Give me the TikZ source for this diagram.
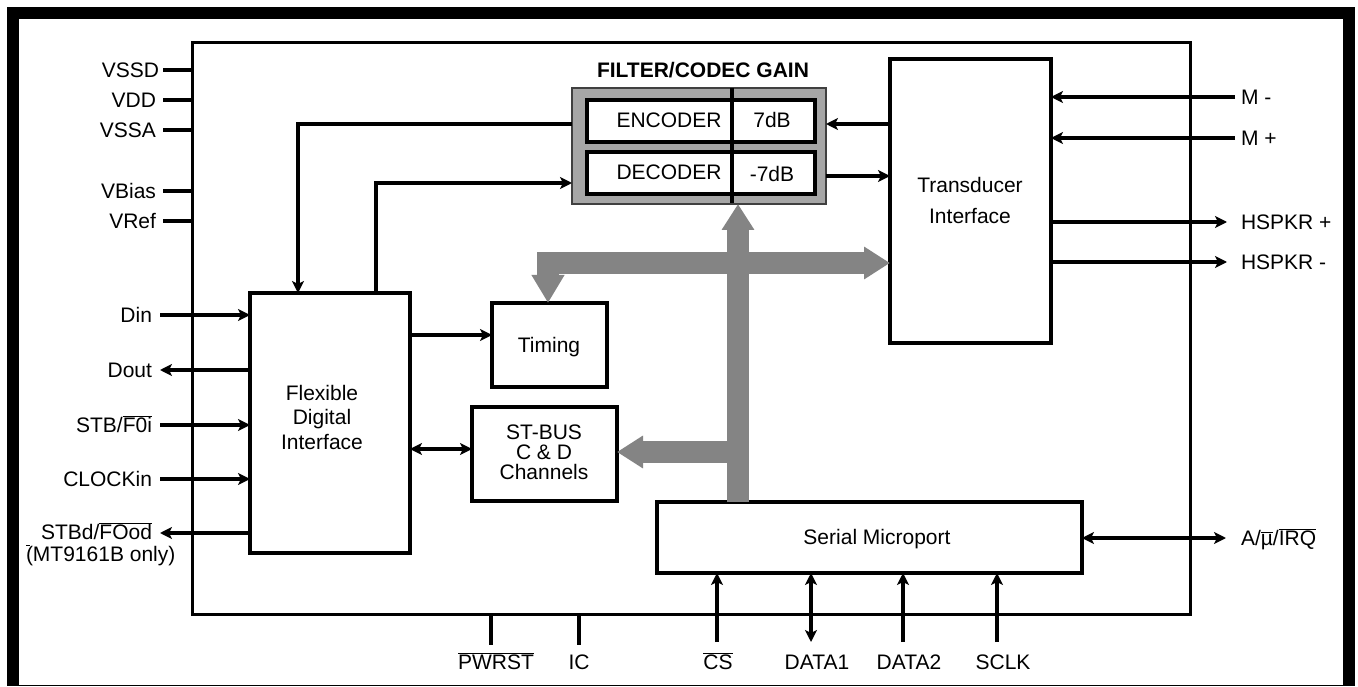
\documentclass[tikz,border=0pt]{standalone}
\usepackage{fontspec}
\setmainfont{Liberation Sans}
\usetikzlibrary{arrows.meta}
\definecolor{busgray}{RGB}{132,132,132}
\definecolor{boxgray}{RGB}{166,166,166}
\newcommand\ovl[1]{\ensuremath{\overline{\mbox{#1}}}}
\begin{document}
\begin{tikzpicture}[x=1pt,y=-1pt,
  every node/.style={font=\fontsize{21}{24}\selectfont, inner sep=0pt, outer sep=0pt},
  blk/.style={draw, line width=3.3pt, fill=white, align=center},
  wire/.style={line width=3.3pt},
  arr/.style={wire, -{Stealth[length=12pt,width=12pt,inset=3pt]}},
  darr/.style={wire, {Stealth[length=12pt,width=12pt,inset=3pt]}-{Stealth[length=12pt,width=12pt,inset=3pt]}},
  bus/.style={line width=22pt, busgray, -{Triangle[length=26pt,width=31pt]}},
  bus2/.style={line width=22pt, busgray, line join=miter, {Triangle[length=28pt,width=31pt]}-{Triangle[length=26pt,width=31pt]}},
  multi/.style={align=center, font=\fontsize{21}{#1}\selectfont},
]
\useasboundingbox (0,0) rectangle (1358,687);
\fill[black] (7,7) rectangle (1355,686);
\fill[white] (19,19) rectangle (1343,684.5);

% chip outline
\node[blk, line width=3pt, minimum width=998pt, minimum height=571pt] (chip) at (691,328.5) {};

% left power pins
\coordinate (pVSSD) at (163,70);
\coordinate (pVDD) at (163,100);
\coordinate (pVSSA) at (163,130);
\coordinate (pVBias) at (163,191);
\coordinate (pVRef) at (163,221);
\foreach \p in {pVSSD,pVDD,pVSSA,pVBias,pVRef}{\draw[line width=3.8pt] (\p) -- (chip.west |- \p);}
\node[anchor=base east] (lVSSD) at (159,77.5) {VSSD};
\node[anchor=base east] (lVDD) at (156,107.5) {VDD};
\node[anchor=base east] (lVSSA) at (156,137.5) {VSSA};
\node[anchor=base east] (lVBias) at (156,198.5) {VBias};
\node[anchor=base east] (lVRef) at (156,228.5) {VRef};

% blocks
\node[blk, minimum width=160pt, minimum height=260pt] (fdi) at (330,423) {};
\node[multi=24.5] (fdit) at (322,417) {Flexible\\Digital\\Interface};
\node[blk, minimum width=115pt, minimum height=84pt] (timing) at (549.5,345) {};
\node[anchor=base] (timt) at (549,352) {Timing};
\node[blk, minimum width=145pt, minimum height=94pt] (stbus) at (544.5,454) {};
\node[multi=20] (stbt) at (544,452.5) {ST-BUS\\C \& D\\Channels};
\node[blk, minimum width=425pt, minimum height=71pt] (sm) at (869.5,537.5) {};
\node[anchor=base] (smt) at (877,544) {Serial Microport};
\node[blk, minimum width=161pt, minimum height=284pt] (trans) at (970.5,201) {};
\node[multi=31] (trt) at (970,200) {Transducer\\Interface};

% filter / codec
\node[draw=black!75, line width=1.2pt, fill=boxgray, minimum width=254pt, minimum height=116pt] (filt) at (699,146) {};
\node[blk, line width=4pt, minimum width=228pt, minimum height=42pt] (enc) at (701,121) {};
\node[blk, line width=4pt, minimum width=228pt, minimum height=42pt] (dec) at (701,173) {};
\coordinate (divx) at (732,0);
\draw[wire] (filt.north -| divx) -- ([yshift=1pt]filt.south -| divx);
\node[anchor=base] (enct) at (669,127.5) {ENCODER};
\node[anchor=base] (encg) at (772,128) {7dB};
\node[anchor=base] (dect) at (669,179.5) {DECODER};
\node[anchor=base] (decg) at (772,182) {-7dB};
\node[anchor=base, font=\fontsize{21}{24}\selectfont\bfseries] (title) at (703,78) {FILTER/CODEC GAIN};

% buses
\coordinate (busx) at (738,0);
\coordinate (hbus) at (548,263);
\draw[bus2] (timing.north -| hbus) -- (hbus) -- (trans.west |- hbus);
\draw[bus] (sm.north -| busx) -- (filt.south -| busx);
\coordinate (lbus) at (738,452);
\draw[bus] (lbus) -- (stbus.east |- lbus);

% internal connections
\coordinate (ency) at (0,124);
\coordinate (decy) at (0,176);
\coordinate (dinY) at (0,183);
\coordinate (e1) at (298,124);
\coordinate (d1) at (376,183);
\draw[arr] (trans.west |- ency) -- (filt.east |- ency);
\draw[arr] (filt.east |- decy) -- (trans.west |- decy);
\draw[arr] (filt.west |- e1) -- (e1) -- (fdi.north -| e1);
\draw[arr] (fdi.north -| d1) -- (d1) -- (filt.west |- d1);
\coordinate (tmy) at (0,335);
\coordinate (sty) at (0,449);
\draw[arr] (fdi.east |- tmy) -- (timing.west |- tmy);
\draw[darr] (fdi.east |- sty) -- (stbus.west |- sty);

% left signal pins
\coordinate (pDin) at (160,315);
\coordinate (pDout) at (160,370);
\coordinate (pSTB) at (160,425);
\coordinate (pCLK) at (160,479);
\coordinate (pSTBd) at (160,533);
\draw[arr] (pDin) -- (fdi.west |- pDin);
\draw[arr] (fdi.west |- pDout) -- (pDout);
\draw[arr] (pSTB) -- (fdi.west |- pSTB);
\draw[arr] (pCLK) -- (fdi.west |- pCLK);
\draw[arr] (fdi.west |- pSTBd) -- (pSTBd);
\node[anchor=base east] (lDin) at (152,322.5) {Din};
\node[anchor=base east] (lDout) at (152,377.5) {Dout};
\node[anchor=base east] (lSTB) at (152,432.5) {STB/\ovl{F0i}};
\node[anchor=base east] (lCLK) at (152,486.5) {CLOCKin};
\node[anchor=base east] (lSTBd) at (152,539.5) {STBd/\ovl{FOod}};
\node[anchor=base west] (lMT) at (26,561) {\rlap{\ovl{\vphantom{M}\kern4pt}}(MT9161B only)};

% right pins
\coordinate (pMm) at (1235,97);
\coordinate (pMp) at (1235,138);
\coordinate (pHp) at (1227,222);
\coordinate (pHm) at (1227,262);
\coordinate (pIRQ) at (1226,538);
\draw[arr] (pMm) -- (trans.east |- pMm);
\draw[arr] (pMp) -- (trans.east |- pMp);
\draw[arr] (trans.east |- pHp) -- (pHp);
\draw[arr] (trans.east |- pHm) -- (pHm);
\draw[darr] (sm.east |- pIRQ) -- (pIRQ);
\node[anchor=base west] (lMm) at (1241,104.5) {M -};
\node[anchor=base west] (lMp) at (1241,145.5) {M +};
\node[anchor=base west] (lHp) at (1241,229.5) {HSPKR +};
\node[anchor=base west] (lHm) at (1241,269.5) {HSPKR -};
\node[anchor=base west] (lIRQ) at (1241,545) {A/\ovl{µ}/\ovl{IRQ}};

% bottom pins
\coordinate (pPW) at (491,645);
\coordinate (pIC) at (579,645);
\coordinate (pCS) at (717,642);
\coordinate (pD1) at (811,642);
\coordinate (pD2) at (903,642);
\coordinate (pSC) at (997,642);
\draw[wire] (chip.south -| pPW) -- (pPW);
\draw[wire] (chip.south -| pIC) -- (pIC);
\draw[arr] (pCS) -- (sm.south -| pCS);
\draw[darr] (pD1) -- (sm.south -| pD1);
\draw[arr] (pD2) -- (sm.south -| pD2);
\draw[arr] (pSC) -- (sm.south -| pSC);
\node[anchor=base] (lPW) at (496,669) {\ovl{PWRST}};
\node[anchor=base] (lIC) at (579,669) {IC};
\node[anchor=base] (lCS) at (718,669) {\ovl{CS}};
\node[anchor=base] (lD1) at (817,669) {DATA1};
\node[anchor=base] (lD2) at (909,669) {DATA2};
\node[anchor=base] (lSC) at (1003,669) {SCLK};
\end{tikzpicture}
\end{document}
